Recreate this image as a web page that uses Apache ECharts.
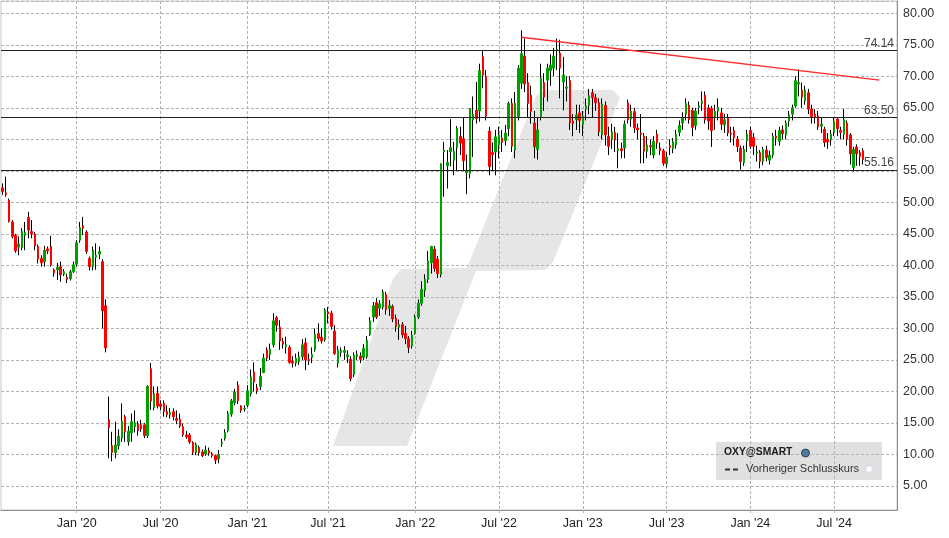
<!DOCTYPE html>
<html><head><meta charset="utf-8">
<script src="https://cdn.jsdelivr.net/npm/echarts@6.0.0/dist/echarts.min.js"></script>
<style>html,body{margin:0;padding:0;background:#fff}#c{width:949px;height:538px}</style>
</head><body><div id="c"></div>
<script>
// ---------- data ----------
const startDate = '2019-07-22';   // Monday of first weekly candle
const weekCount = 278;            // weeks on the axis (incl. empty future weeks)
const tickDates = ['2019-12-30','2020-06-29','2021-01-04','2021-06-28','2022-01-03','2022-07-04','2023-01-02','2023-07-03','2024-01-01','2024-07-01'];
const tickLabels = ["Jan '20","Jul '20","Jan '21","Jul '21","Jan '22","Jul '22","Jan '23","Jul '23","Jan '24","Jul '24"];
const levelValues = [74.14, 63.50, 55.16];
const trendDates = ['2022-08-22','2024-10-07'];
const trendValues = [76.2, 69.4];
const seriesName = 'OXY@SMART';
const legendSecond = 'Vorheriger Schlusskurs';

// weekly candles [open, close, low, high]
const ohlc2019 = [[52.3,51.7,51.2,53.0],[51.5,51.2,50.9,54.1],[50.3,47.0,46.8,50.6],[46.9,44.6,44.3,47.2],[44.8,42.3,42.0,45.0],[42.9,43.4,41.6,44.6],[42.8,45.4,42.4,45.9],[44.8,45.2,42.4,46.9],[47.6,45.6,44.3,48.5],[45.4,45.0,44.3,47.2],[45.0,43.1,42.4,45.3],[43.0,41.0,40.3,43.3],[41.1,40.4,39.8,41.6],[40.6,42.4,39.8,43.1],[42.6,42.3,41.8,43.0],[43.0,40.1,39.8,44.7],[39.3,38.8,38.2,39.5],[39.3,39.7,37.7,40.4],[39.8,38.5,37.4,40.6],[38.6,39.0,38.3,39.4],[38.1,37.8,37.2,38.7],[37.9,39.0,37.6,39.3],[39.0,40.1,38.8,40.6],[40.2,43.6,39.8,44.0]];
const ohlc2020 = [[44.0,46.0,43.6,46.9],[46.3,45.9,44.8,47.7],[45.3,42.2,41.8,45.6],[41.1,39.8,39.2,41.4],[39.8,42.4,39.2,43.0],[41.3,41.6,39.3,43.5],[41.8,42.2,41.0,43.0],[40.6,32.8,30.0,41.0],[33.6,26.9,26.2,34.6],[15.5,14.3,9.4,19.2],[11.4,10.3,8.9,13.6],[10.3,11.5,9.4,15.2],[11.4,12.9,10.8,14.0],[12.6,15.3,12.0,18.1],[16.0,13.6,12.0,16.3],[12.0,13.7,11.4,14.5],[13.4,15.2,12.0,16.5],[14.4,15.0,13.5,17.0],[14.8,13.8,13.0,15.3],[14.7,14.1,13.6,15.5],[14.7,13.0,12.6,15.0],[13.0,20.8,12.6,21.0],[23.6,18.5,17.1,24.5],[17.4,19.6,17.0,20.8],[19.7,17.7,17.3,20.8],[18.0,17.6,17.0,18.6],[18.1,16.8,16.0,18.6],[16.8,16.3,15.9,17.8],[16.3,16.7,15.7,17.4],[16.8,16.0,15.4,17.3],[15.7,15.4,14.8,17.0],[15.6,14.5,14.2,16.5],[14.4,13.1,12.8,14.9],[13.1,12.8,12.5,13.7],[13.1,12.0,11.7,13.4],[11.9,10.3,9.9,12.1],[10.3,11.6,9.9,11.9],[11.1,10.3,9.8,11.4],[10.4,9.8,9.6,10.8],[10.1,10.7,9.8,11.4],[10.6,10.2,9.8,11.1],[10.1,9.8,9.5,10.4],[9.8,9.1,8.5,10.0],[9.3,10.0,8.6,10.7],[11.7,11.9,11.2,12.5],[12.5,13.5,12.2,14.0],[13.8,16.5,13.5,16.9],[16.4,18.5,16.0,18.8],[18.2,19.9,17.8,20.4],[21.0,18.5,18.0,21.6],[17.7,17.0,16.6,17.8],[17.2,17.3,16.8,17.8]];
const ohlc2021 = [[17.8,20.1,17.5,21.0],[19.6,22.3,19.2,23.5],[23.1,21.5,20.0,24.6],[20.6,20.1,19.6,21.2],[20.8,22.4,20.2,23.7],[23.0,25.3,22.9,26.0],[26.6,25.3,24.8,27.0],[25.9,26.7,25.0,27.6],[27.4,31.2,27.0,32.4],[31.7,30.5,29.5,32.0],[30.2,28.0,26.6,31.3],[27.9,27.5,26.8,28.5],[27.1,27.4,26.0,28.7],[27.0,24.6,24.4,27.3],[24.8,24.5,23.8,25.6],[24.5,25.3,24.0,26.0],[24.7,25.5,24.2,26.3],[25.5,27.4,25.0,28.3],[27.7,25.0,23.4,28.5],[25.1,24.9,24.2,26.0],[25.4,25.9,24.5,27.0],[26.6,29.1,26.3,30.0],[29.2,28.4,27.9,30.8],[28.6,28.0,27.6,30.0],[28.2,32.9,27.9,33.2],[32.6,32.3,30.8,33.4],[32.4,30.3,29.8,32.8],[29.6,26.0,25.8,30.5],[24.5,26.6,23.8,27.2],[26.2,26.5,25.5,27.0],[26.2,26.5,25.0,27.2],[25.5,25.8,24.5,26.5],[25.1,22.0,21.6,25.6],[22.7,25.8,22.3,26.2],[25.6,25.9,25.0,26.5],[25.6,25.1,24.5,26.2],[25.4,26.8,25.0,27.5],[25.5,28.1,25.2,28.8],[29.0,31.2,28.8,31.8],[31.8,33.6,31.0,34.2],[34.1,31.8,31.5,34.8],[33.2,33.9,32.0,34.5],[33.4,35.8,33.0,36.2],[35.4,33.0,32.2,35.8],[33.2,33.6,32.0,34.5],[33.5,31.5,31.0,33.8],[31.6,30.3,29.5,32.2],[30.2,30.6,28.2,31.4],[30.6,29.0,28.5,31.0],[29.2,28.4,27.5,30.4],[28.4,27.0,26.1,28.8],[27.2,28.9,26.8,29.6]];
const ohlc2022 = [[29.2,31.8,29.0,32.2],[31.8,34.0,31.5,34.6],[34.0,36.2,33.6,37.5],[36.0,37.8,35.0,38.6],[37.8,40.7,37.2,42.3],[40.4,43.0,38.7,43.1],[42.6,39.5,39.0,43.1],[41.0,38.7,38.0,41.5],[38.5,56.1,38.1,56.2],[58.0,58.3,50.9,59.6],[55.8,56.3,52.2,58.3],[58.0,58.7,55.7,63.2],[56.7,58.1,54.3,59.6],[58.7,61.8,55.1,62.1],[60.5,59.4,57.5,62.0],[60.1,56.6,55.1,63.5],[54.7,55.0,51.3,57.6],[54.6,64.9,53.8,64.9],[63.1,64.0,57.2,66.8],[64.6,63.3,62.5,69.1],[64.5,70.9,62.8,72.0],[73.1,70.2,68.1,74.2],[70.0,63.7,63.0,71.0],[61.3,55.7,54.3,62.0],[57.9,57.6,55.0,59.5],[58.0,60.4,54.3,61.5],[59.1,60.7,57.0,62.0],[60.2,59.5,58.0,61.5],[59.8,61.0,59.0,62.3],[61.7,65.7,60.5,66.0],[65.7,58.9,58.0,66.5],[58.3,65.7,57.0,67.5],[63.6,71.3,63.0,71.8],[68.9,73.6,68.0,77.3],[73.2,68.8,67.5,76.0],[69.0,65.7,63.5,70.5],[67.0,64.4,62.5,68.5],[62.6,58.8,57.0,64.5],[58.4,61.5,56.8,63.5],[63.6,69.7,63.0,72.0],[69.0,66.7,64.5,70.5],[69.4,71.3,66.0,72.0],[70.9,71.8,68.5,73.5],[71.3,73.2,70.0,74.5],[74.1,74.3,71.0,76.0],[73.7,71.3,66.5,75.8],[69.1,70.2,64.6,73.1],[68.1,68.3,66.0,70.0],[69.3,62.6,61.5,70.0],[62.9,62.5,60.5,64.0],[63.1,63.9,61.5,65.5],[64.2,63.0,61.0,65.5]];
const ohlc2023 = [[62.3,63.7,60.5,64.5],[64.8,65.3,63.0,66.5],[65.4,66.9,64.0,68.0],[67.4,66.6,63.5,68.0],[66.6,65.8,64.5,67.2],[65.8,61.2,60.5,66.5],[60.7,65.6,60.0,66.5],[65.4,60.7,59.0,66.0],[60.5,58.9,57.5,62.0],[60.0,61.2,58.5,62.5],[61.1,59.9,58.0,62.0],[58.2,58.5,55.4,61.0],[58.5,58.2,57.0,59.5],[58.6,62.4,57.0,63.0],[65.8,63.1,62.5,66.3],[63.2,64.5,62.0,65.5],[64.4,61.8,61.0,65.0],[61.8,61.5,60.0,62.5],[61.0,60.8,56.2,64.0],[60.5,58.1,56.2,61.0],[58.1,59.1,57.0,60.5],[59.0,58.8,57.5,60.0],[57.5,59.7,57.0,60.5],[60.8,59.4,58.5,61.5],[58.6,58.2,57.5,59.5],[58.2,56.2,55.8,58.5],[56.1,57.2,55.5,58.0],[59.0,58.7,57.5,60.0],[58.5,59.6,57.8,60.2],[59.1,60.8,58.5,61.5],[61.1,62.2,60.5,63.0],[62.6,63.5,61.5,64.3],[64.0,65.7,63.0,66.5],[65.4,63.1,62.5,66.0],[64.6,61.9,60.5,65.0],[62.2,64.5,61.5,65.0],[65.1,65.3,64.0,66.0],[65.7,66.1,64.5,67.6],[67.0,63.1,62.5,67.6],[65.0,62.9,61.5,65.5],[64.9,61.4,58.8,65.3],[63.6,64.4,61.5,65.5],[64.5,65.1,63.0,66.5],[64.2,62.4,61.5,65.0],[62.3,63.1,61.0,64.0],[63.5,61.0,60.5,64.0],[61.0,60.8,59.5,62.0],[61.4,60.3,59.0,62.0],[60.0,58.8,58.0,60.5],[58.6,56.5,55.2,59.0],[56.3,58.4,55.8,59.0],[59.8,60.8,58.0,61.5]];
const ohlc2024 = [[61.4,58.9,58.5,62.0],[60.3,58.9,57.5,61.0],[57.8,58.0,56.5,59.0],[57.9,56.5,55.4,58.3],[56.5,58.4,55.9,58.8],[58.3,57.1,56.5,59.0],[56.7,57.5,56.0,58.2],[57.5,60.5,57.0,61.0],[60.5,60.2,59.0,61.5],[59.7,61.4,59.0,62.0],[61.5,60.9,60.0,62.2],[60.7,62.6,60.0,63.0],[62.9,63.9,62.0,64.5],[64.0,65.0,63.0,65.5],[65.3,69.3,65.0,70.0],[68.8,69.0,66.8,71.1],[67.8,66.7,65.0,69.0],[66.1,67.8,65.5,68.5],[67.4,64.8,64.0,68.0],[64.8,63.6,62.5,65.5],[64.0,63.6,62.5,64.8],[63.7,62.0,61.5,64.5],[62.1,62.4,61.0,63.5],[61.6,59.5,58.8,62.0],[60.0,59.6,58.5,61.0],[59.9,60.8,59.0,61.5],[61.2,62.9,60.5,63.5],[63.2,61.7,60.5,63.5],[61.4,61.1,60.0,62.0],[60.8,63.1,60.0,64.8],[62.6,60.0,59.0,63.0],[60.7,57.7,56.0,61.0],[55.5,58.4,54.9,58.8],[58.8,57.7,55.8,59.2],[57.9,57.3,55.8,58.3],[58.2,56.8,56.0,58.6]];

// ---------- build ----------
const categories = [];
const t0 = Date.parse(startDate + 'T00:00:00Z');
for (let i = 0; i < weekCount; i++) categories.push(new Date(t0 + i * 7 * 864e5).toISOString().slice(0, 10));
const candles = [].concat(ohlc2019, ohlc2020, ohlc2021, ohlc2022, ohlc2023, ohlc2024);
const wickData = candles.map(d => { const m = (d[0] + d[1]) / 2; return [m, m, d[2], d[3]]; });
const bodyData = candles.map(d => [d[0], d[1], Math.min(d[0], d[1]), Math.max(d[0], d[1])]);
const isTick = (idx, val) => tickDates.indexOf(val) >= 0;

const UP = '#00a000', DOWN = '#ff0000';
const FONT = '"Liberation Sans", Arial, sans-serif';
const GRID_C = '#b2b2b2';

const chart = echarts.init(document.getElementById('c'), null, { renderer: 'canvas' });
chart.setOption({
  animation: false,
  backgroundColor: '#ffffff',
  grid: { left: 1, right: 52, top: 1, bottom: 28, show: true, borderColor: '#c8c8c8', borderWidth: 1 },
  xAxis: {
    type: 'category', data: categories, boundaryGap: true,
    axisLine: { lineStyle: { color: '#8a8a8a', width: 1 } },
    axisTick: { show: true, alignWithLabel: true, interval: isTick, length: 5, lineStyle: { color: GRID_C, type: [3, 2] } },
    axisLabel: { interval: isTick, margin: 7, color: '#222', fontSize: 12.5, fontFamily: FONT,
      formatter: v => tickLabels[tickDates.indexOf(v)] || '' },
    splitLine: { show: true, alignWithLabel: true, interval: isTick, lineStyle: { color: GRID_C, type: [3, 2], width: 1 } }
  },
  yAxis: {
    type: 'value', position: 'right', min: 1.19, max: 81.95, splitNumber: 16, minInterval: 5, maxInterval: 5,
    axisLine: { show: true, lineStyle: { color: '#8a8a8a', width: 1 } },
    axisTick: { show: false },
    axisLabel: { margin: 6, color: '#333', fontSize: 12.5, fontFamily: FONT, showMinLabel: false, showMaxLabel: false,
      formatter: v => v.toFixed(2) },
    splitLine: { show: true, lineStyle: { color: GRID_C, type: [3, 2], width: 1 } }
  },
  graphic: [
    { type: 'polygon', z: -10, silent: true,
      shape: { points: [[333,446],[393,279],[401,269],[467,268],[536,96],[544,90],[613,90],[620,98],[553,262],[545,270],[476,271],[407,446]] },
      style: { fill: '#e6e6e6' } },
    { type: 'rect', z: -5, silent: true, shape: { x: 716, y: 442, width: 166, height: 38 }, style: { fill: '#e0e0e0' } },
    { type: 'text', z: 100, silent: true, x: 724, y: 447.5, style: { text: seriesName, fill: '#1a1a1a', font: 'bold 10.3px ' + FONT } },
    { type: 'circle', z: 100, silent: true, shape: { cx: 805.5, cy: 453, r: 4 }, style: { fill: '#54779c', stroke: '#2e4560', lineWidth: 1 } },
    { type: 'line', z: 100, silent: true, shape: { x1: 725, y1: 469.5, x2: 741, y2: 469.5 }, style: { stroke: '#333', lineWidth: 2, lineDash: [5, 3] } },
    { type: 'text', z: 100, silent: true, x: 746, y: 463.5, style: { text: legendSecond, fill: '#333', font: '11px ' + FONT } },
    { type: 'rect', z: 100, silent: true, shape: { x: 866, y: 466, width: 6, height: 6 }, style: { fill: '#ffffff', stroke: '#d8d8e8', lineWidth: 1 } }
  ],
  series: [
    { name: seriesName, type: 'candlestick', data: wickData, barWidth: 1, z: 2,
      itemStyle: { color: '#000', color0: '#000', borderColor: '#000', borderColor0: '#000', borderColorDoji: '#000', borderWidth: 1 },
      markLine: {
        silent: true, symbol: ['none', 'none'], animation: false,
        data: levelValues.map(v => ({ yAxis: v,
          lineStyle: { color: '#222', width: 1, type: 'solid' },
          label: { show: true, position: 'insideEndTop', distance: [3, 1], formatter: p => Number(p.value).toFixed(2), color: '#444', fontSize: 12, fontFamily: FONT } }))
          .concat([[
            { coord: [categories.indexOf(trendDates[0]), trendValues[0]], lineStyle: { color: '#ff2a2a', width: 1.3, type: 'solid' }, label: { show: false } },
            { coord: [categories.indexOf(trendDates[1]), trendValues[1]] }
          ]])
      }
    },
    { name: seriesName, type: 'candlestick', data: bodyData, barWidth: 2, z: 3,
      itemStyle: { color: UP, color0: DOWN, borderColor: UP, borderColor0: DOWN, borderColorDoji: UP, borderWidth: 1 } }
  ]
});
</script>
</body></html>
